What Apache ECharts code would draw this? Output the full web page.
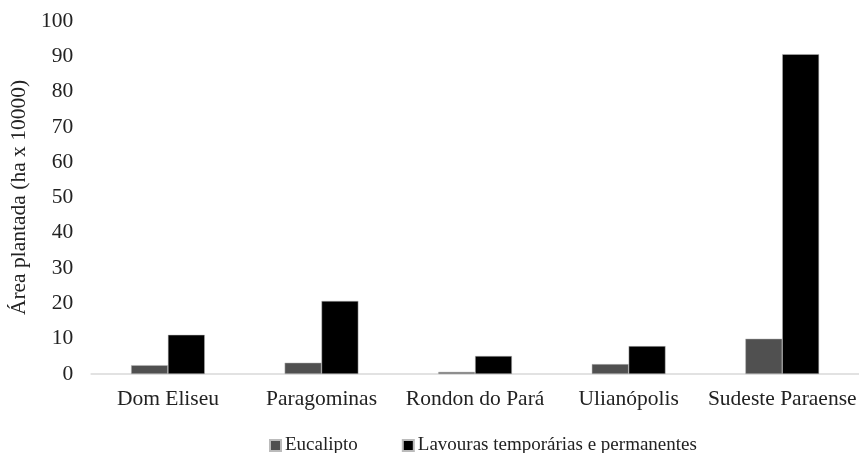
<!DOCTYPE html>
<html><head><meta charset="utf-8">
<script src="https://cdn.jsdelivr.net/npm/echarts@6/dist/echarts.min.js"></script>
<style>html,body{margin:0;padding:0;background:#fff}#c{width:859px;height:453px}</style>
</head><body><div id="c"></div>
<script>
const categories = ['Dom Eliseu', 'Paragominas', 'Rondon do Pará', 'Ulianópolis', 'Sudeste Paraense'];
const eucalipto = [2.5, 3.2, 0.6, 2.8, 10.0];
const lavouras = [11.1, 20.7, 5.1, 7.9, 90.6];
const seriesNames = ['Eucalipto', 'Lavouras temporárias e permanentes'];
const yTicks = {min: 0, max: 100, interval: 10};

const font = 'Liberation Serif';
const fs = 21.5;
const chart = echarts.init(document.getElementById('c'));
chart.setOption({
  animation: false,
  textStyle: {fontFamily: font},
  grid: {left: 88, right: -5, top: 21, bottom: 79},
  legend: {
    top: 431, left: 264, itemWidth: 11, itemHeight: 11, itemGap: 44,
    icon: 'rect',
    textStyle: {fontFamily: font, fontSize: 19, color: '#222', padding: [0, 0, 0, -1]},
    data: seriesNames
  },
  xAxis: {
    type: 'category', data: categories,
    axisLine: {lineStyle: {color: '#d9d9d9', width: 1.5}},
    axisTick: {show: false},
    axisLabel: {fontFamily: font, fontSize: fs, color: '#222', margin: 14, interval: 0}
  },
  yAxis: {
    type: 'value', min: yTicks.min, max: yTicks.max, interval: yTicks.interval,
    name: 'Área plantada (ha x 10000)', nameLocation: 'middle', nameGap: 60,
    nameTextStyle: {fontFamily: font, fontSize: fs, color: '#222'},
    axisLine: {show: false}, axisTick: {show: false}, splitLine: {show: false},
    axisLabel: {fontFamily: font, fontSize: fs, color: '#222', margin: 18}
  },
  series: [
    {name: seriesNames[0], type: 'bar', data: eucalipto, barGap: '0%', barCategoryGap: '52%',
     itemStyle: {color: '#505050', borderColor: '#bbb', borderWidth: 0.5}},
    {name: seriesNames[1], type: 'bar', data: lavouras,
     itemStyle: {color: '#000', borderColor: '#bbb', borderWidth: 0.5}}
  ]
});
</script></body></html>
